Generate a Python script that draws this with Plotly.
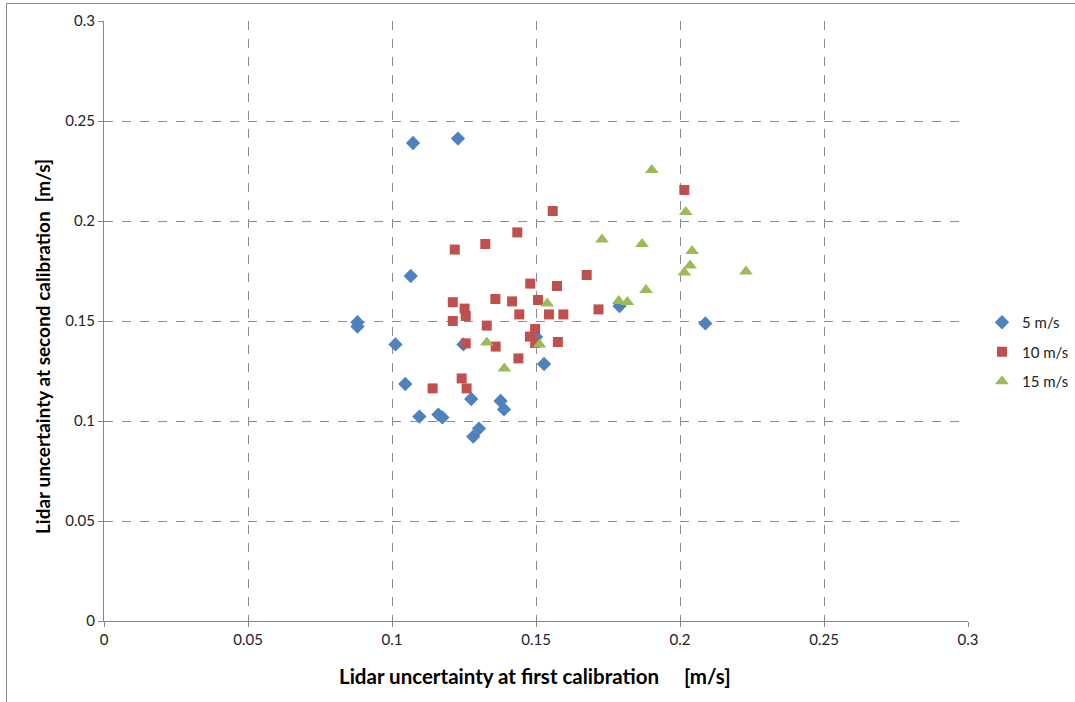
import plotly.graph_objects as go

# Lidar uncertainty at first vs. second calibration, by wind speed bin
x_5 = [0.1073, 0.1229, 0.1065, 0.0880, 0.0880, 0.1012, 0.1248, 0.1046, 0.1095, 0.1161,
       0.1175, 0.1275, 0.1302, 0.1282, 0.1377, 0.1389, 0.1528, 0.1790, 0.2088, 0.1500]
y_5 = [0.2390, 0.2412, 0.1725, 0.1494, 0.1472, 0.1383, 0.1383, 0.1185, 0.1022, 0.1032,
       0.1018, 0.1110, 0.0962, 0.0922, 0.1100, 0.1058, 0.1285, 0.1575, 0.1488, 0.1420]

x_10 = [0.1558, 0.1435, 0.1324, 0.1218, 0.1676, 0.1480, 0.1573, 0.1211, 0.1252, 0.1359,
        0.1417, 0.1507, 0.1442, 0.1545, 0.1595, 0.1256, 0.1211, 0.1329, 0.1497, 0.1479,
        0.1497, 0.1576, 0.1256, 0.1360, 0.1439, 0.1242, 0.1259, 0.1141, 0.2015, 0.1717]
y_10 = [0.2050, 0.1943, 0.1885, 0.1857, 0.1730, 0.1687, 0.1675, 0.1594, 0.1562, 0.1610,
        0.1598, 0.1605, 0.1533, 0.1533, 0.1533, 0.1525, 0.1500, 0.1477, 0.1460, 0.1422,
        0.1390, 0.1395, 0.1388, 0.1372, 0.1313, 0.1213, 0.1163, 0.1163, 0.2155, 0.1558]

x_15 = [0.1902, 0.2020, 0.1729, 0.1868, 0.2042, 0.2035, 0.2015, 0.2229, 0.1882, 0.1787,
        0.1817, 0.1539, 0.1512, 0.1329, 0.1390]
y_15 = [0.2255, 0.2045, 0.1908, 0.1885, 0.1850, 0.1777, 0.1743, 0.1748, 0.1655, 0.1600,
        0.1595, 0.1588, 0.1383, 0.1392, 0.1263]

tick_vals = [0, 0.05, 0.1, 0.15, 0.2, 0.25, 0.3]
tick_text = ["0", "0.05", "0.1", "0.15", "0.2", "0.25", "0.3"]

x_title = "Lidar uncertainty at first calibration\u00a0\u00a0\u00a0\u00a0 [m/s]"
y_title = "Lidar uncertainty at second calibration\u00a0\u00a0[m/s]"

font_family = "Lato, Open Sans, sans-serif"

# plot area in pixels
L, R, T, B = 104, 968, 21, 621
W, H = R - L, B - T


def px_x(p):
    return (p - L) / W


def px_y(p):
    return (B - p) / H


fig = go.Figure()
fig.add_trace(go.Scatter(x=x_5, y=y_5, mode="markers", name="5 m/s", legendgroup="a",
                         marker=dict(symbol="diamond", size=11, color="#4F81BD")))
fig.add_trace(go.Scatter(x=x_10, y=y_10, mode="markers", name="10 m/s", legendgroup="b",
                         marker=dict(symbol="square", size=10, color="#C0504D")))
fig.add_trace(go.Scatter(x=x_15, y=y_15, mode="markers", name="15 m/s", legendgroup="c",
                         marker=dict(symbol="triangle-up", size=12, color="#9BBB59")))

axis_common = dict(
    tickvals=tick_vals, ticktext=tick_text, range=[0, 0.3],
    showgrid=True, gridcolor="#8C8C8C", griddash="dash", gridwidth=1,
    showline=True, linecolor="#868686", linewidth=1,
    ticks="outside", ticklen=5, tickcolor="#868686",
    zeroline=False, tickfont=dict(family=font_family, size=15, color="#222222"),
)
fig.update_xaxes(**axis_common)
fig.update_yaxes(**axis_common)

fig.add_annotation(text=x_title, xref="paper", yref="paper",
                   x=px_x(535), y=px_y(676), showarrow=False,
                   xanchor="center", yanchor="middle",
                   font=dict(family=font_family, size=20.5, color="#000000", weight="bold"))
fig.add_annotation(text=y_title, xref="paper", yref="paper",
                   x=px_x(42), y=px_y(347), showarrow=False, textangle=-90,
                   xanchor="center", yanchor="middle",
                   font=dict(family=font_family, size=19, color="#000000", weight="bold"))

# chart border along the left and top edges
fig.add_shape(type="line", xref="paper", yref="paper",
              x0=px_x(6.5), x1=px_x(6.5), y0=px_y(705), y1=px_y(3.5),
              line=dict(color="#868686", width=1))
fig.add_shape(type="line", xref="paper", yref="paper",
              x0=px_x(6.5), x1=px_x(1080), y0=px_y(3.5), y1=px_y(3.5),
              line=dict(color="#868686", width=1))

fig.update_layout(
    width=1075, height=702,
    margin=dict(l=L, r=1075 - R, t=T, b=702 - B, autoexpand=False),
    paper_bgcolor="white", plot_bgcolor="white",
    legend=dict(x=px_x(982), y=px_y(352), yanchor="middle", xanchor="left",
                font=dict(family=font_family, size=15, color="#222222"),
                tracegroupgap=7, itemwidth=30),
)

fig.write_html("out.html")
